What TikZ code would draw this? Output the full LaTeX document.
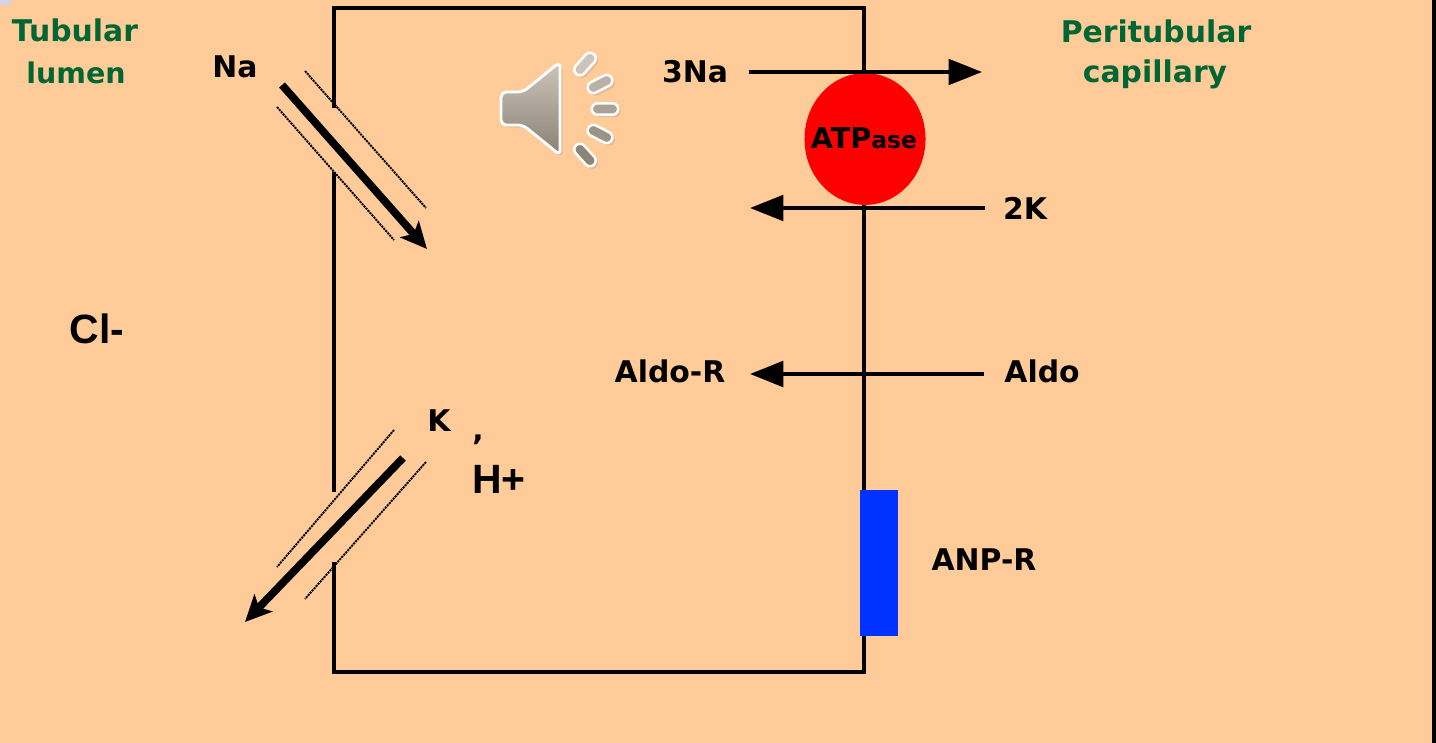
\documentclass[tikz,border=0pt]{standalone}
\usepackage{fontspec}
\setmainfont{DejaVu Sans}
\newfontfamily\liberation{Liberation Sans}
\usetikzlibrary{arrows.meta,shapes.geometric,shapes.misc,shadows}

\begin{document}
\begin{tikzpicture}[x=0.02cm,y=-0.02cm]
\tikzstyle{tag}=[inner sep=0pt, outer sep=0pt, font=\fontsize{17}{20}\selectfont\bfseries]
\tikzstyle{greentag}=[tag, text={rgb,255:red,0;green,102;blue,51}]
\tikzstyle{bigtag}=[inner sep=0pt, outer sep=0pt, font=\fontsize{23.3}{26}\selectfont\liberation\bfseries]
\tikzstyle{wall}=[line width=1.9pt, line join=miter]
\tikzstyle{channel}=[line width=1.1pt, dash pattern=on 1.2pt off 0.5pt]
\tikzstyle{flow}=[line width=4.4pt, -{Stealth[length=15pt, width=14pt, inset=3.5pt]}]
\tikzstyle{pump}=[line width=2.2pt, -{Triangle[length=19pt, width=14.5pt]}]
\tikzstyle{bar}=[rounded rectangle, draw=white, line width=1.4pt, minimum width=15pt, minimum height=6.5pt, inner sep=0pt, drop shadow={opacity=0.2, shadow xshift=1.5pt, shadow yshift=-1.5pt}]

\fill[fill={rgb,255:red,255;green,204;blue,153}] (0,0) rectangle (1436,743);
\useasboundingbox (0,0) rectangle (1436,743);
\fill[fill={rgb,255:red,212;green,212;blue,232}] (0,0) rectangle (11,5);
\fill[black] (1432,0) rectangle (1436,743);

\coordinate (walltop) at (334,108);
\coordinate (gapa) at (334,172);
\coordinate (gapb) at (334,492);
\coordinate (wallend) at (334,562);
\draw[wall] (walltop) -- (334,8) -- (864,8) -- (864,672) -- (334,672) -- (wallend);
\draw[wall] (gapa) -- (gapb);

\draw (865,139) node[ellipse, fill=red, inner sep=0pt, minimum width=68.9pt, minimum height=75pt] (atpaseoval) {};
\draw (864,138) node[inner sep=0pt, font=\bfseries] (atpase) {\fontsize{16.3}{16}\selectfont ATP\fontsize{13.4}{16}\selectfont ase};
\fill[fill={rgb,255:red,0;green,51;blue,255}] (860,490) rectangle (898,636);

\draw (75,30) node[greentag] (tubular) {Tubular};
\draw (76,73) node[greentag, font=\fontsize{16.2}{20}\selectfont\bfseries] (lumen) {lumen};
\draw (1156,31) node[greentag] (peritubular) {Peritubular};
\draw (1155,74) node[greentag] (capillary) {capillary};
\draw (235,67) node[tag] (na) {Na};
\draw (695,72) node[tag] (threena) {3Na};
\draw (1025,208) node[tag] (twok) {2K};
\draw (1042,374) node[tag, text depth=3.4pt] (aldo) {Aldo};
\draw (670,374) node[tag, text depth=3.4pt] (aldor) {Aldo-R};
\draw (439,421) node[tag] (k) {K};
\draw (984,560) node[tag] (anpr) {ANP-R};
\draw (478,440) node[tag] (comma) {,};
\draw (97,329) node[bigtag] (cl) {Cl-};
\draw (499,479) node[bigtag] (hplus) {H+};

\coordinate (naend) at (982,72);
\coordinate (kend) at (750,208);
\draw (threena) edge[pump, shorten <=12pt] (naend);
\draw (twok) edge[pump, shorten <=10pt] (kend);
\draw (aldo) edge[pump, shorten <=11.5pt, shorten >=14pt] (aldor);

\coordinate (nafrom) at (282,85);
\coordinate (nato) at (427,249);
\coordinate (kfrom) at (403,458);
\coordinate (kto) at (245,622);
\draw (nafrom) edge[flow] (nato);
\draw (kfrom) edge[flow] (kto);

\coordinate (ca) at (305,71);
\coordinate (cb) at (426,208);
\coordinate (cc) at (277,107);
\coordinate (cd) at (394,240);
\coordinate (ce) at (394,430);
\coordinate (cf) at (277,567);
\coordinate (cg) at (426,462);
\coordinate (ch) at (305,599);
\draw (ca) edge[channel] (cb);
\draw (cc) edge[channel] (cd);
\draw (ce) edge[channel] (cf);
\draw (cg) edge[channel] (ch);

\draw[white, line width=1.6pt, rounded corners=3pt, top color={rgb,255:red,204;green,196;blue,186}, bottom color={rgb,255:red,138;green,128;blue,118}, drop shadow={opacity=0.2, shadow xshift=1.5pt, shadow yshift=-1.5pt}] (501,92) -- (523,92) -- (560,62) -- (560,155) -- (523,125) -- (501,125) -- cycle;
\draw (585,64) node[bar, rotate=48, fill={rgb,255:red,204;green,196;blue,186}] (bara) {};
\draw (600,84) node[bar, rotate=27, fill={rgb,255:red,186;green,177;blue,167}] (barb) {};
\draw (605,109) node[bar, fill={rgb,255:red,170;green,161;blue,151}] (barc) {};
\draw (600,134) node[bar, rotate=-27, fill={rgb,255:red,155;green,146;blue,136}] (bard) {};
\draw (585,155) node[bar, rotate=-48, fill={rgb,255:red,140;green,131;blue,121}] (bare) {};
\end{tikzpicture}
\end{document}
